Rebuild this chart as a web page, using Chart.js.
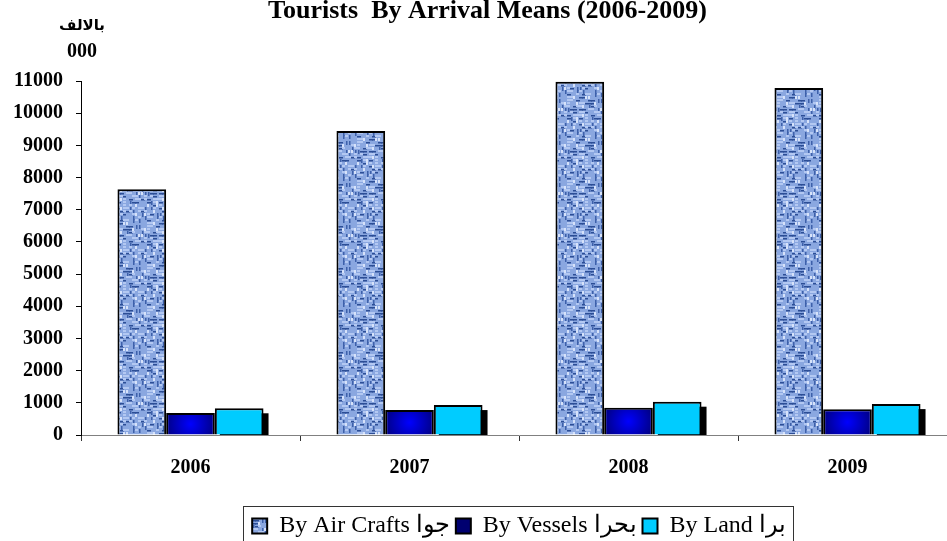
<!DOCTYPE html>
<html>
<head>
<meta charset="utf-8">
<script src="https://cdn.jsdelivr.net/npm/chart.js@4"></script>
<style>
    html, body { margin: 0; padding: 0; background: #fff; overflow: hidden; }
    #wrap { width: 960px; height: 548px; }
</style>
</head>
<body>
<div id="wrap"><canvas id="touristChart" width="960" height="548"></canvas></div>
<script>
    'use strict';

    // values in thousands
    const years = ['2006', '2007', '2008', '2009'];
    const airCrafts = [7640, 9450, 10980, 10780];
    const vessels = [680, 780, 850, 800];
    const byLand = [830, 930, 1035, 960];
    const yTicks = [0, 1000, 2000, 3000, 4000, 5000, 6000, 7000, 8000, 9000, 10000, 11000];

    const serif = "'Liberation Serif', 'Times New Roman', serif";
    Chart.defaults.font.family = serif;

    // small integer hash, used only to scatter the texture of the air bars
    function hash(x, y) {
        let h = (x * 374761393 + y * 668265263) | 0;
        h = (h ^ (h >>> 13)) * 1274126177 | 0;
        return ((h ^ (h >>> 16)) >>> 0) % 100;
    }

    // fabric-like texture for the air crafts bars
    function makeFabric() {
        const size = 42;
        const c = document.createElement('canvas');
        c.width = size;
        c.height = size;
        const g = c.getContext('2d');
        g.fillStyle = '#8aa7e0';
        g.fillRect(0, 0, size, size);
        for (let y = 0; y < size; y += 3) {
            for (let x = 0; x < size; x += 3) {
                const k = hash(x, y);
                if (k < 16) {
                    g.fillStyle = '#2c4e96';
                    g.fillRect(x, y + 1, 4, 1.5);
                } else if (k < 28) {
                    g.fillStyle = '#3d60aa';
                    g.fillRect(x + 1, y, 1.5, 4);
                } else if (k < 58) {
                    g.fillStyle = '#b3c8f2';
                    g.fillRect(x, y, 3, 2);
                } else if (k < 68) {
                    g.fillStyle = '#d6e2fa';
                    g.fillRect(x, y, 2, 3);
                }
            }
        }
        return g.createPattern(c, 'repeat');
    }

    // glowing blue for the vessels bars (middle bar sits on the category centre)
    function vesselFill(context) {
        const chart = context.chart;
        if (context.dataIndex === undefined || !chart.chartArea) {
            return '#0000ff';
        }
        const xs = chart.scales.x;
        const ys = chart.scales.y;
        const cx = xs.getPixelForValue(context.dataIndex);
        const w = (xs.width / years.length) * 0.667 / 3;
        const top = ys.getPixelForValue(vessels[context.dataIndex]);
        const cy = (top + ys.getPixelForValue(0)) / 2;
        const grad = chart.ctx.createRadialGradient(cx, cy, 0, cx, cy, w * 0.6);
        grad.addColorStop(0, '#0000ff');
        grad.addColorStop(1, '#000070');
        return grad;
    }

    const landShadow = {
        id: 'landShadow',
        beforeDatasetsDraw(chart) {
            const ctx = chart.ctx;
            const area = chart.chartArea;
            const meta = chart.getDatasetMeta(2);
            ctx.save();
            ctx.beginPath();
            ctx.rect(area.left, area.top, area.right - area.left, area.bottom - area.top);
            ctx.clip();
            ctx.fillStyle = '#000';
            meta.data.forEach(function(bar) {
                ctx.fillRect(bar.x - bar.width / 2 + 5, bar.y + 5, bar.width, bar.base - bar.y);
            });
            ctx.restore();
        }
    };

    const extras = {
        id: 'extras',
        afterLayout(chart) {
            // the title sits a little right of the page centre
            chart.titleBlock.left = 18;
        },
        afterDraw(chart) {
            const ctx = chart.ctx;
            ctx.save();
            // unit note above the y axis
            ctx.fillStyle = '#000';
            ctx.textAlign = 'center';
            ctx.textBaseline = 'middle';
            ctx.font = "bold 15px 'DejaVu Sans', sans-serif";
            ctx.fillText('بالالف', 82, 26);
            ctx.font = 'bold 20px ' + serif;
            ctx.fillText('000', 82, 52);

            // frame round the legend
            const boxes = chart.legend.legendHitBoxes;
            if (boxes && boxes.length) {
                let left = Infinity;
                let right = -Infinity;
                boxes.forEach(function(b) {
                    left = Math.min(left, b.left);
                    right = Math.max(right, b.left + b.width);
                });
                const top = boxes[0].top - 8;
                ctx.strokeStyle = '#333';
                ctx.lineWidth = 1;
                ctx.strokeRect(Math.round(left - 9) + 0.5, Math.round(top) + 0.5,
                    Math.round(right - left + 16), 100);
            }
            ctx.restore();
        }
    };

    new Chart(document.getElementById('touristChart'), {
        type: 'bar',
        data: {
            labels: years,
            datasets: [{
                label: 'By Air Crafts جوا',
                data: airCrafts,
                backgroundColor: makeFabric(),
                borderColor: '#000',
                borderWidth: 2
            }, {
                label: 'By Vessels بحرا',
                data: vessels,
                backgroundColor: vesselFill,
                borderColor: '#000',
                borderWidth: 2
            }, {
                label: 'By Land برا',
                data: byLand,
                backgroundColor: '#00ccff',
                borderColor: '#000',
                borderWidth: 2
            }]
        },
        plugins: [landShadow, extras],
        options: {
            responsive: false,
            animation: false,
            devicePixelRatio: 1,
            layout: {
                padding: { left: 0, right: 3, top: 0, bottom: 0 }
            },
            datasets: {
                bar: {
                    categoryPercentage: 0.667,
                    barPercentage: 1.0
                }
            },
            scales: {
                x: {
                    offset: true,
                    grid: {
                        offset: true,
                        drawOnChartArea: false,
                        drawTicks: true,
                        tickLength: 6,
                        color: '#333'
                    },
                    border: { color: '#808080', width: 1 },
                    ticks: {
                        color: '#000',
                        padding: 15,
                        font: { family: serif, size: 20, weight: 'bold' }
                    },
                    afterFit: function(scale) {
                        scale.height = 73;
                    }
                },
                y: {
                    min: 0,
                    max: 11000,
                    afterBuildTicks: function(scale) {
                        scale.ticks = yTicks.map(function(v) { return { value: v }; });
                    },
                    grid: {
                        drawOnChartArea: false,
                        drawTicks: true,
                        tickLength: 5,
                        color: '#000'
                    },
                    border: { color: '#000', width: 1 },
                    ticks: {
                        color: '#000',
                        padding: 13,
                        font: { family: serif, size: 20, weight: 'bold' },
                        callback: function(value) {
                            return String(value);
                        }
                    },
                    afterFit: function(scale) {
                        scale.width = 81;
                    }
                }
            },
            plugins: {
                title: {
                    display: true,
                    text: 'Tourists  By Arrival Means (2006-2009)',
                    color: '#000',
                    font: { family: serif, size: 26, weight: 'bold', lineHeight: 0.7 },
                    padding: { top: 2, bottom: 60.8 }
                },
                legend: {
                    display: true,
                    position: 'bottom',
                    fullSize: false,
                    labels: {
                        color: '#000',
                        boxWidth: 15,
                        boxHeight: 15,
                        padding: 6,
                        font: { family: 'Liberation Serif', size: 24, weight: 'normal' }
                    }
                },
                tooltip: { enabled: false }
            }
        }
    });
</script>
</body>
</html>
